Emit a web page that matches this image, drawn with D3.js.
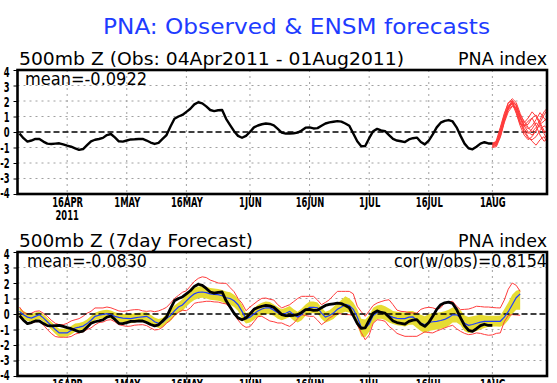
<!DOCTYPE html>
<html><head><meta charset="utf-8">
<script src="https://cdn.jsdelivr.net/npm/d3@7"></script>
<style>html,body{margin:0;padding:0;background:#fff;} svg{display:block;}</style>
</head><body>
<svg id="c" width="557" height="383"></svg>
<script>
// ---------------- data ----------------
const obsStart = "2011-04-04";
const obsPNA = [
 -0.10,-0.40,-0.62,-0.55,-0.45,-0.45,-0.62,-0.75,-0.77,-0.75,
 -0.73,-0.80,-0.88,-0.95,-1.05,-1.15,-1.10,-0.85,-0.60,-0.50,
 -0.45,-0.38,-0.20,-0.13,-0.35,-0.60,-0.62,-0.55,-0.48,-0.47,
 -0.45,-0.45,-0.55,-0.68,-0.77,-0.70,-0.45,-0.20,0.35,0.85,
 1.00,1.10,1.30,1.50,1.78,1.92,1.85,1.65,1.42,1.35,
 1.40,1.42,0.85,0.45,0.05,-0.25,-0.37,-0.25,0.00,0.30,
 0.42,0.50,0.55,0.52,0.43,0.20,-0.04,-0.10,-0.10,-0.08,
 -0.04,0.10,0.28,0.30,0.23,0.25,0.40,0.55,0.62,0.66,
 0.70,0.67,0.55,0.40,-0.10,-0.60,-0.92,-0.90,-0.40,0.05,
 0.20,0.10,0.05,-0.20,-0.45,-0.55,-0.60,-0.65,-0.48,-0.40,
 -0.36,-0.65,-0.80,-0.55,-0.15,0.30,0.60,0.72,0.77,0.68,
 0.30,-0.25,-0.75,-1.05,-1.12,-0.95,-0.75,-0.66,-0.74,-0.74];

// ensemble forecast runs from 01Aug2011 (daily)
const ensStart = "2011-08-01";
const ensRuns = [
 [-0.75,-0.80,-0.30,0.70,1.50,1.95,1.70,1.00,0.40,0.50,0.90,1.10,0.60,0.10,-0.20],
 [-0.85,-0.70,-0.10,0.80,1.55,1.90,1.75,1.00,0.40,0.00,-0.20,0.10,0.60,1.10,1.50],
 [-0.95,-0.85,-0.05,0.90,1.60,1.85,1.40,0.60,0.00,-0.40,-0.50,-0.30,0.10,0.40,0.20],
 [-0.80,-0.55,0.30,1.20,1.85,2.15,1.90,1.20,0.60,0.90,1.30,1.00,0.50,-0.10,-0.60],
 [-1.00,-0.95,-0.35,0.60,1.30,1.65,1.50,0.90,0.50,0.20,0.40,0.80,1.25,0.90,0.60],
 [-0.70,-0.65,0.00,1.00,1.70,1.90,1.50,0.70,0.10,-0.30,-0.60,-0.85,-0.50,-0.30,-0.80],
 [-0.90,-0.75,0.20,1.10,1.90,2.00,1.30,0.50,0.40,0.70,0.90,0.40,-0.20,-0.60,-0.40],
 [-0.85,-0.65,0.05,0.90,1.45,1.70,1.60,1.10,0.70,0.30,0.00,0.30,0.80,1.30,1.60],
 [-0.78,-0.72,-0.05,0.85,1.60,2.05,1.75,0.90,0.20,-0.10,0.20,0.60,0.30,0.00,0.10],
 [-0.92,-0.88,-0.20,0.70,1.50,1.85,1.20,0.40,-0.20,-0.50,-0.30,0.10,0.50,0.70,1.00]];

// 7-day forecast verifying from 04Apr2011 (daily)
const fcstMean = [
 0.17,-0.05,-0.20,-0.26,-0.15,-0.05,-0.25,-0.50,-0.75,-1.00,
 -1.22,-1.22,-1.22,-1.05,-0.90,-0.85,-0.78,-0.62,-0.40,-0.15,
 -0.08,-0.03,0.02,-0.05,-0.15,-0.22,-0.26,-0.28,-0.30,-0.25,
 -0.21,-0.18,-0.15,-0.30,-0.50,-0.60,-0.55,-0.30,-0.10,0.20,
 0.45,0.58,0.85,1.10,1.30,1.40,1.42,1.38,1.30,1.27,
 1.25,1.18,1.05,1.00,0.85,0.60,0.17,-0.30,-0.20,0.00,
 0.20,0.32,0.40,0.39,0.25,0.08,-0.04,0.05,0.17,-0.05,
 -0.20,-0.03,0.25,0.43,0.43,0.40,0.06,-0.20,-0.10,0.06,
 0.30,0.45,0.62,0.55,0.30,-0.20,-0.85,-0.90,-0.65,-0.10,
 0.10,0.13,0.05,-0.10,-0.22,-0.28,-0.30,-0.30,-0.20,-0.18,
 -0.40,-0.58,-0.69,-0.55,-0.50,-0.47,-0.42,-0.35,-0.22,-0.05,
 -0.05,-0.22,-0.60,-0.73,-0.68,-0.60,-0.52,-0.48,-0.47,-0.47,
 -0.47,-0.47,-0.20,0.15,0.60,1.05,1.30];
const bandHigh = [
 0.40,0.20,0.05,0.00,0.10,0.15,-0.02,-0.25,-0.50,-0.75,
 -0.95,-0.95,-0.95,-0.78,-0.62,-0.58,-0.50,-0.35,-0.13,0.08,
 0.18,0.24,0.28,0.22,0.12,0.05,0.00,0.00,0.00,0.05,
 0.08,0.10,0.12,-0.05,-0.22,-0.32,-0.25,0.00,0.25,0.55,
 0.75,0.95,1.22,1.48,1.68,1.78,1.80,1.76,1.68,1.65,
 1.62,1.55,1.45,1.40,1.25,1.00,0.60,0.05,0.15,0.38,
 0.60,0.72,0.80,0.78,0.62,0.45,0.30,0.40,0.52,0.30,
 0.15,0.35,0.62,0.80,0.80,0.75,0.42,0.15,0.25,0.45,
 0.70,0.90,1.15,1.00,0.75,0.30,-0.30,-0.35,-0.10,0.40,
 0.55,0.60,0.50,0.35,0.20,0.15,0.12,0.10,0.20,0.20,
 0.05,-0.05,-0.15,0.00,0.05,0.08,0.12,0.18,0.28,0.42,
 0.40,0.25,-0.10,-0.20,-0.15,-0.10,-0.05,-0.10,-0.12,-0.12,
 -0.12,-0.10,0.30,0.75,1.25,1.50,1.58];
const bandLow = [
 -0.12,-0.30,-0.45,-0.50,-0.40,-0.30,-0.48,-0.75,-1.00,-1.28,
 -1.48,-1.48,-1.45,-1.32,-1.15,-1.10,-1.05,-0.88,-0.65,-0.38,
 -0.32,-0.28,-0.22,-0.30,-0.42,-0.50,-0.55,-0.58,-0.60,-0.55,
 -0.50,-0.48,-0.45,-0.62,-0.80,-0.90,-0.85,-0.62,-0.45,-0.15,
 0.10,0.20,0.48,0.72,0.90,1.02,1.05,1.00,0.92,0.88,
 0.85,0.78,0.65,0.60,0.45,0.20,-0.30,-0.62,-0.55,-0.38,
 -0.18,-0.08,0.00,-0.02,-0.12,-0.30,-0.40,-0.30,-0.20,-0.42,
 -0.55,-0.40,-0.12,0.06,0.05,0.02,-0.30,-0.55,-0.45,-0.32,
 -0.08,0.05,0.15,0.10,-0.15,-0.70,-1.45,-1.50,-1.15,-0.60,
 -0.32,-0.30,-0.38,-0.55,-0.65,-0.72,-0.75,-0.80,-0.70,-0.70,
 -0.90,-1.10,-1.22,-1.10,-1.05,-1.00,-0.95,-0.88,-0.75,-0.55,
 -0.55,-0.72,-1.10,-1.22,-1.18,-1.10,-1.00,-0.90,-0.82,-0.80,
 -0.80,-0.82,-0.70,-0.40,0.00,0.28,0.28];
const envHigh = [
 0.45,0.10,0.00,0.05,0.17,0.20,0.05,-0.15,-0.40,-0.60,
 -0.69,-0.69,-0.60,-0.45,-0.37,-0.30,-0.15,0.05,0.17,0.39,
 0.39,0.39,0.45,0.40,0.30,0.20,0.17,0.20,0.25,0.28,
 0.28,0.20,0.17,0.20,0.15,0.20,0.30,0.43,0.70,1.00,
 1.20,1.40,1.50,1.80,2.10,2.30,2.40,2.35,2.19,2.10,
 2.00,1.98,1.98,1.70,1.44,1.00,0.69,0.21,0.45,0.65,
 0.85,1.01,1.03,0.95,0.90,0.60,0.39,0.50,0.60,0.80,
 1.00,1.14,1.14,1.14,1.14,0.90,0.60,0.75,0.92,1.20,
 1.46,1.46,1.46,1.46,1.30,0.50,0.15,-0.15,0.20,0.55,
 0.71,0.80,0.88,0.92,0.60,0.25,0.17,0.15,0.10,0.06,
 0.06,0.30,0.39,0.43,0.40,0.30,0.40,0.71,0.78,0.82,
 0.50,0.28,0.30,0.32,0.40,0.50,0.48,0.45,0.45,0.42,
 0.40,0.39,0.90,1.60,2.00,1.85,1.46];
const envLow = [
 -0.20,-0.45,-0.58,-0.60,-0.50,-0.47,-0.70,-1.00,-1.25,-1.45,
 -1.50,-1.50,-1.50,-1.45,-1.30,-1.22,-1.15,-1.00,-0.90,-0.70,
 -0.55,-0.52,-0.40,-0.37,-0.50,-0.69,-0.75,-0.80,-0.78,-0.72,
 -0.70,-0.69,-0.75,-0.90,-1.03,-1.00,-0.85,-0.60,-0.39,-0.10,
 0.10,0.25,0.21,0.40,0.69,0.75,0.78,0.82,0.82,0.78,
 0.77,0.70,0.65,0.40,0.00,-0.39,-0.70,-0.86,-0.82,-0.50,
 -0.17,-0.15,-0.30,-0.45,-0.50,-0.58,-0.58,-0.70,-0.80,-0.60,
 -0.30,-0.04,-0.10,-0.15,-0.15,-0.40,-0.69,-0.50,-0.26,-0.10,
 0.06,0.00,-0.04,-0.04,-0.10,-0.70,-1.20,-1.66,-1.35,-0.60,
 -0.37,-0.40,-0.47,-0.80,-1.00,-1.25,-1.35,-1.44,-1.44,-1.44,
 -1.44,-1.30,-1.15,-1.20,-1.22,-1.10,-1.00,-0.90,-0.80,-0.73,
 -0.95,-1.12,-1.25,-1.33,-1.30,-1.22,-1.25,-1.32,-1.37,-1.35,
 -1.25,-1.22,-0.50,-0.10,-0.04,-0.06,-0.08];

const tickDates = ["2011-04-16","2011-05-01","2011-05-16","2011-06-01","2011-06-16","2011-07-01","2011-07-16","2011-08-01"];
const tickLabels = ["16APR","1MAY","16MAY","1JUN","16JUN","1JUL","16JUL","1AUG"];
const yearLabel = "2011";
const yTicks = [-4,-3,-2,-1,0,1,2,3,4];

const mainTitle = "PNA: Observed & ENSM forecasts";
const topSub = "500mb Z (Obs: 04Apr2011 - 01Aug2011)";
const botSub = "500mb Z (7day Forecast)";
const idxLabel = "PNA index";
const topMean = "mean=-0.0922";
const botMean = "mean=-0.0830";
const corrText = "cor(w/obs)=0.8154";

// ---------------- drawing ----------------
const parse = d3.timeParse("%Y-%m-%d");
const d0 = parse(obsStart), e0 = parse(ensStart);
const dayOf = (base, i) => d3.timeDay.offset(base, i);
const svg = d3.select("#c");
const FONT = "'DejaVu Sans', 'Liberation Sans', sans-serif";
const L = 17.5, R = 547;
const x = d3.scaleTime()
  .domain([new Date(2011,3,3,12), new Date(2011,7,14,18)])
  .range([L, R]);
const tickDs = tickDates.map(parse);

function txt(str, xx, yy, size, width, anchor, color) {
  const t = svg.append("text").attr("x", xx).attr("y", yy)
    .attr("font-family", FONT).attr("font-size", size)
    .attr("fill", color || "#000").attr("text-anchor", anchor || "start")
    .text(str);
  if (width) t.attr("textLength", width).attr("lengthAdjust", "spacingAndGlyphs");
  return t;
}
function squeeze(sel, k) {
  sel.each(function () {
    const w = this.getComputedTextLength();
    d3.select(this).attr("textLength", w * k).attr("lengthAdjust", "spacingAndGlyphs");
  });
}

txt(mainTitle, 103, 34, 21, 387, "start", "#1e3cff");

function panel(top, id, withYear) {
  const H = 124;
  const y = d3.scaleLinear().domain([-4, 4]).range([top + H, top]);
  const g = svg.append("g");
  svg.append("clipPath").attr("id", id).append("rect")
    .attr("x", L).attr("y", top).attr("width", R - L).attr("height", H);
  // grid
  g.append("g").selectAll("line").data(yTicks.filter(v => v !== 0 && Math.abs(v) !== 4))
    .join("line").attr("x1", L).attr("x2", R).attr("y1", d => y(d)).attr("y2", d => y(d))
    .attr("stroke", "#a0a0a0").attr("stroke-width", 1).attr("stroke-dasharray", "2,4");
  g.append("g").selectAll("line").data(tickDs)
    .join("line").attr("x1", d => x(d)).attr("x2", d => x(d)).attr("y1", top).attr("y2", top + H)
    .attr("stroke", "#a0a0a0").attr("stroke-width", 1).attr("stroke-dasharray", "2,4");
  // y axis
  const ya = g.append("g").attr("transform", `translate(${L},0)`)
    .call(d3.axisLeft(y).tickValues(yTicks).tickFormat(d => String(d)).tickSize(4).tickPadding(2));
  ya.select(".domain").remove();
  ya.selectAll("line").attr("stroke", "#000");
  ya.selectAll("text").attr("font-family", FONT).attr("font-size", 14).attr("font-weight", "bold").attr("fill", "#000")
    .attr("transform", d => `translate(-2,${0.5 + d * 0.33})`);
  squeeze(ya.selectAll("text"), 0.6);
  // x axis
  const xa = g.append("g").attr("transform", `translate(0,${top + H})`)
    .call(d3.axisBottom(x).tickValues(tickDs).tickFormat((d, i) => tickLabels[i]).tickSize(4).tickPadding(-1));
  xa.select(".domain").remove();
  xa.selectAll("line").attr("stroke", "#000");
  xa.selectAll("text").attr("font-family", FONT).attr("font-size", 14).attr("font-weight", "bold").attr("fill", "#000");
  squeeze(xa.selectAll("text"), 0.6);
  if (withYear) {
    const yr = txt(yearLabel, x(tickDs[0]), top + H + 26, 13.5, null, "middle").attr("font-weight", "bold");
    squeeze(yr, 0.62);
  }
  const plot = svg.append("g").attr("clip-path", `url(#${id})`);
  return { y, plot, top, H };
}

// ---- top panel ----
const P1 = panel(70, "clipTop", true);
{
  const { y, plot } = P1;
  plot.append("line").attr("x1", L).attr("x2", R).attr("y1", y(0)).attr("y2", y(0))
    .attr("stroke", "#000").attr("stroke-width", 1.3).attr("stroke-dasharray", "6,3");
  const line = d3.line().x(d => x(d[0])).y(d => y(d[1]));
  ensRuns.forEach(run => {
    plot.append("path").attr("d", line(run.map((v, i) => [dayOf(e0, i), v])))
      .attr("fill", "none").attr("stroke", "#ff3c3c").attr("stroke-width", 1);
  });
  plot.append("path").attr("d", line(obsPNA.map((v, i) => [dayOf(d0, i), v])))
    .attr("fill", "none").attr("stroke", "#000").attr("stroke-width", 2.4).attr("stroke-linejoin", "round");
  svg.append("rect").attr("x", L).attr("y", 70).attr("width", R - L).attr("height", 124)
    .attr("fill", "none").attr("stroke", "#000").attr("stroke-width", 2.6);
}
txt(topSub, 19, 65, 17, 385);
txt(idxLabel, 547, 65, 17, 89, "end");
txt(topMean, 25, 85, 17, 122);

// ---- bottom panel ----
const P2 = panel(252, "clipBot", false);
{
  const { y, plot } = P2;
  const area = d3.area().x((d, i) => x(dayOf(d0, i))).y0((d, i) => y(bandLow[i])).y1((d, i) => y(bandHigh[i]));
  plot.append("path").attr("d", area(fcstMean)).attr("fill", "#e6dc32").attr("stroke", "none");
  const line = d3.line().x(d => x(d[0])).y(d => y(d[1]));
  [envHigh, envLow].forEach(arr => {
    plot.append("path").attr("d", line(arr.map((v, i) => [dayOf(d0, i), v])))
      .attr("fill", "none").attr("stroke", "#ff3c3c").attr("stroke-width", 1);
  });
  plot.append("line").attr("x1", L).attr("x2", R).attr("y1", y(0)).attr("y2", y(0))
    .attr("stroke", "#000").attr("stroke-width", 1.3).attr("stroke-dasharray", "6,3");
  plot.append("path").attr("d", line(fcstMean.map((v, i) => [dayOf(d0, i), v])))
    .attr("fill", "none").attr("stroke", "#1e3cff").attr("stroke-width", 1.2);
  plot.append("path").attr("d", line(obsPNA.map((v, i) => [dayOf(d0, i), v])))
    .attr("fill", "none").attr("stroke", "#000").attr("stroke-width", 2.8).attr("stroke-linejoin", "round");
  svg.append("rect").attr("x", L).attr("y", 252).attr("width", R - L).attr("height", 124)
    .attr("fill", "none").attr("stroke", "#000").attr("stroke-width", 2.6);
}
txt(botSub, 19, 247, 17, 234);
txt(idxLabel, 547, 247, 17, 89, "end");
txt(botMean, 27, 267, 17, 120);
txt(corrText, 547, 267, 17, 153, "end");
</script>
</body></html>
